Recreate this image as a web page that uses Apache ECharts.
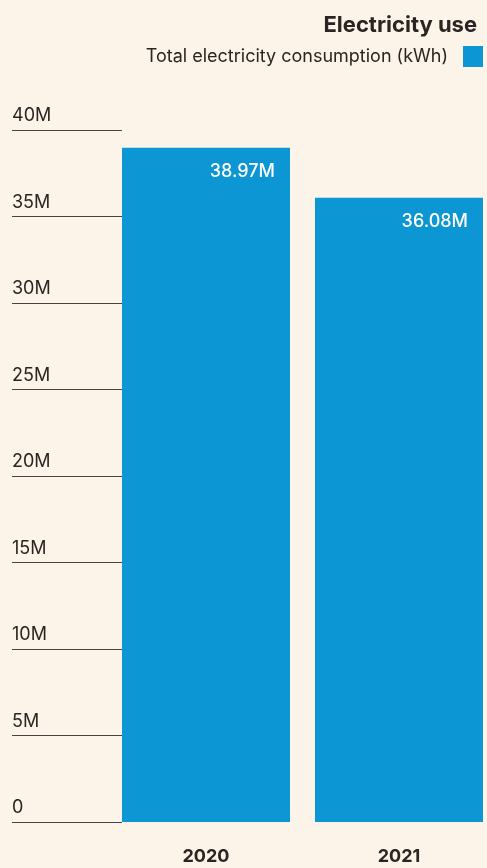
<!DOCTYPE html>
<html>
<head>
<meta charset="utf-8">
<script src="https://cdn.jsdelivr.net/npm/echarts@6/dist/echarts.min.js"></script>
<style>
  html, body { margin: 0; padding: 0; background: #fdf4e9; }
  #chart { width: 487px; height: 868px; }
</style>
</head>
<body>
<div id="chart"></div>
<script>
// Annual electricity use, in millions of kWh
const years = ['2020', '2021'];
const consumption = [38.97, 36.08];
const seriesName = 'Total electricity consumption (kWh)';
const yTicks = { min: 0, max: 40, interval: 5 };

const ink = '#2a2522';
const barBlue = '#0c96d4';
const font = 'Inter, "Noto Sans", sans-serif';

const chart = echarts.init(document.getElementById('chart'), null, { renderer: 'canvas' });

chart.setOption({
  backgroundColor: '#fdf4e9',
  animation: false,
  title: {
    text: 'Electricity use',
    right: 10,
    top: 14,
    padding: 0,
    textStyle: { fontFamily: font, fontSize: 22, fontWeight: 'bold', color: ink }
  },
  legend: {
    data: [seriesName],
    right: 4,
    top: 46,
    padding: 0,
    align: 'right',
    itemWidth: 20,
    itemHeight: 21,
    itemGap: 10,
    icon: 'rect',
    textStyle: { fontFamily: font, fontSize: 18, color: ink, padding: [3, 10, 0, 0] }
  },
  grid: [
    // Tick labels and rules to the left of the bars
    { left: 12, width: 110, top: 130, bottom: 46, outerBoundsMode: 'none' },
    // Bars; the band extends a little past the right edge so the two bars sit flush with it
    { left: 109.5, width: 386, top: 130, bottom: 46, outerBoundsMode: 'none' }
  ],
  xAxis: [
    { gridIndex: 0, type: 'category', data: [''], show: false },
    {
      gridIndex: 1,
      type: 'category',
      data: years,
      axisLine: { show: false },
      axisTick: { show: false },
      axisLabel: {
        margin: 26,
        fontFamily: font,
        fontSize: 18,
        fontWeight: 'bold',
        color: ink
      }
    }
  ],
  yAxis: [
    {
      gridIndex: 0,
      type: 'value',
      min: yTicks.min,
      max: yTicks.max,
      interval: yTicks.interval,
      axisLine: { show: false },
      axisTick: { show: false },
      splitLine: { show: true, lineStyle: { color: '#4a4440', width: 1 } },
      axisLabel: {
        inside: true,
        margin: 0,
        verticalAlign: 'bottom',
        padding: [0, 0, 5, 0],
        fontFamily: font,
        fontSize: 18,
        color: ink,
        formatter: v => (v === 0 ? '0' : v + 'M')
      }
    },
    {
      gridIndex: 1,
      type: 'value',
      min: yTicks.min,
      max: yTicks.max,
      interval: yTicks.interval,
      show: false
    }
  ],
  series: [
    {
      name: seriesName,
      type: 'bar',
      xAxisIndex: 1,
      yAxisIndex: 1,
      data: consumption,
      barWidth: 168,
      itemStyle: { color: barBlue },
      label: {
        show: true,
        position: 'insideTopRight',
        distance: 15,
        fontFamily: font,
        fontSize: 18,
        fontWeight: 500,
        color: '#ffffff',
        formatter: p => p.value.toFixed(2) + 'M'
      }
    }
  ]
});
</script>
</body>
</html>
